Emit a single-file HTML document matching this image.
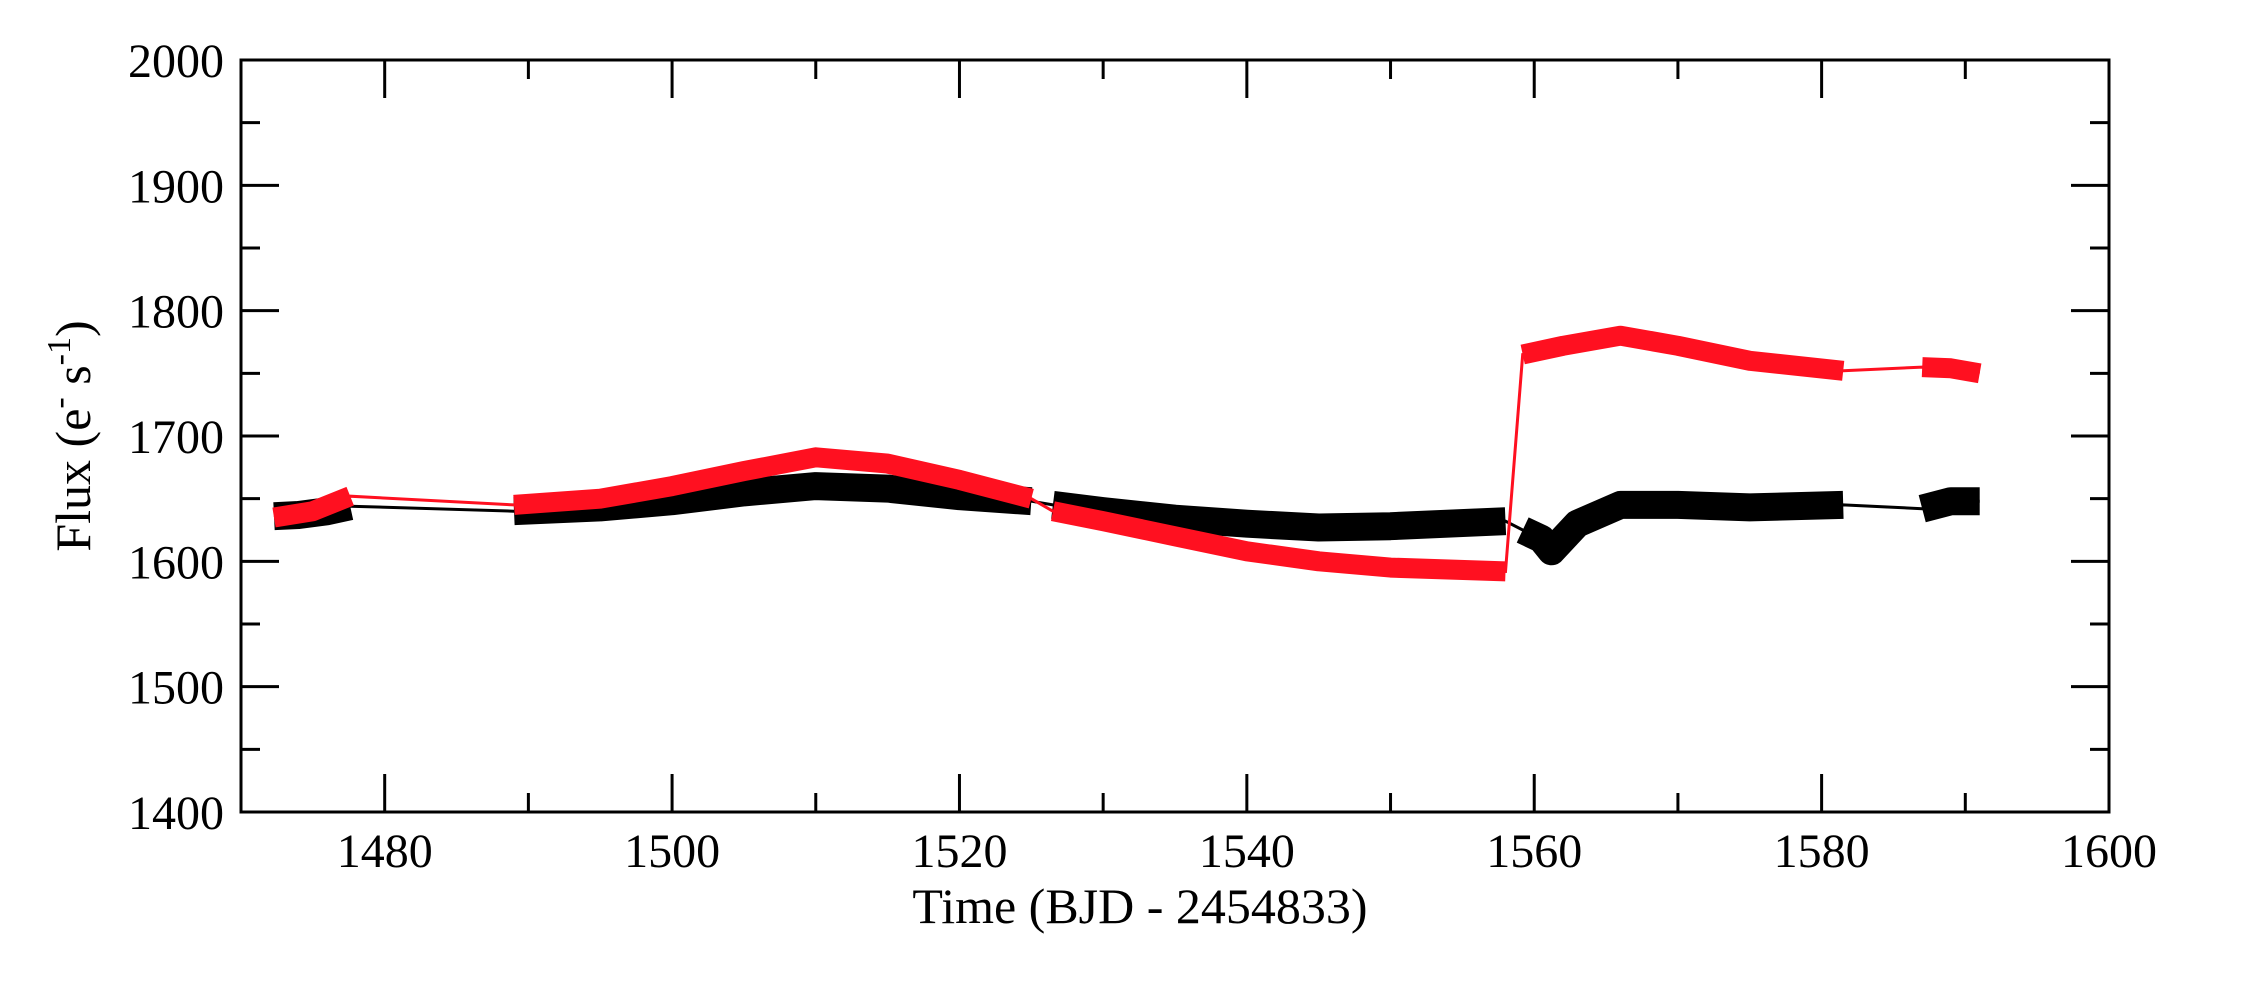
<!DOCTYPE html>
<html><head><meta charset="utf-8"><style>
html,body{margin:0;padding:0;background:#fff;}
svg{display:block;font-family:"Liberation Serif",serif;}
</style></head><body>
<svg id="chart" width="2258" height="1004" viewBox="0 0 2258 1004" xmlns="http://www.w3.org/2000/svg">
<rect x="0" y="0" width="2258" height="1004" fill="#fff"/>
<g id="series"></g>
<g id="axes"></g>
<text x="1140" y="923" font-size="50" text-anchor="middle">Time (BJD - 2454833)</text>
<text transform="translate(90,436) rotate(-90)" font-size="50" text-anchor="middle">Flux (e<tspan font-size="34" dy="-20">-</tspan><tspan dy="20"> s</tspan><tspan font-size="34" dy="-20">-1</tspan><tspan dy="20">)</tspan></text>
</svg>
<script>
const xTicks = [1480, 1500, 1520, 1540, 1560, 1580, 1600];
const yTicks = [1400, 1500, 1600, 1700, 1800, 1900, 2000];
const blackSegTimes = [
  [1472.3, 1474, 1476, 1477.6],
  [1489, 1495, 1500, 1505, 1510, 1515, 1520, 1525],
  [1526.5, 1530, 1535, 1540, 1545, 1550, 1558],
  [1559.2, 1560.5, 1561.2, 1563, 1566, 1570, 1575, 1581.5],
  [1587, 1589, 1591]
];
const blackSegFlux = [
  [1636, 1637, 1640, 1644],
  [1640, 1643, 1648, 1655, 1660, 1658, 1652, 1648],
  [1645, 1640, 1634, 1630, 1627, 1628, 1632],
  [1625, 1618, 1608, 1630, 1645, 1645, 1643, 1645],
  [1642, 1648, 1648]
];
const redSegTimes = [
  [1472.3, 1475, 1477.6],
  [1489, 1495, 1500, 1505, 1510, 1515, 1520, 1525],
  [1526.5, 1530, 1535, 1540, 1545, 1550, 1558],
  [1559.2, 1562, 1566, 1570, 1575, 1581.5],
  [1587, 1589, 1591]
];
const redSegFlux = [
  [1635, 1640, 1652],
  [1645, 1650, 1660, 1672, 1683, 1678, 1665, 1650],
  [1640, 1632, 1620, 1608, 1600, 1595, 1592],
  [1765, 1772, 1780, 1772, 1760, 1752],
  [1755, 1754, 1750]
];

const L = 241, R = 2109, T = 60, B = 812;
const X0 = 1470, X1 = 1600, Y0 = 1400, Y1 = 2000;
function xs(v){ return L + (v - X0) / (X1 - X0) * (R - L); }
function ys(v){ return B - (v - Y0) / (Y1 - Y0) * (B - T); }
const NS = "http://www.w3.org/2000/svg";
function mk(tag, attrs, parent){
  const e = document.createElementNS(NS, tag);
  for (const k in attrs) e.setAttribute(k, attrs[k]);
  parent.appendChild(e);
  return e;
}
const sg = document.getElementById('series');
function drawSeries(times, flux, color, band, name){
  let all = [];
  times.forEach((ts, i) => ts.forEach((t, j) => all.push(xs(t).toFixed(1) + ',' + ys(flux[i][j]).toFixed(1))));
  const c = mk('polyline', {points: all.join(' '), fill: 'none', stroke: color, 'stroke-width': 3}, sg);
  
  
  times.forEach((ts, i) => {
    const pts = ts.map((t, j) => xs(t).toFixed(1) + ',' + ys(flux[i][j]).toFixed(1)).join(' ');
    const p = mk('polyline', {points: pts, fill: 'none', stroke: color, 'stroke-width': band, 'stroke-linejoin': 'round', 'stroke-linecap': 'butt'}, sg);
    
    
  });
}
drawSeries(blackSegTimes, blackSegFlux, '#000', 28, 'black-series');
drawSeries(redSegTimes, redSegFlux, '#ff1020', 20, 'red-series');

const ag = document.getElementById('axes');
const frame = mk('rect', {x: L, y: T, width: R - L, height: B - T, fill: 'none', stroke: '#000', 'stroke-width': 3}, ag);


for (let v = X0; v <= X1; v += 10) {
  const major = xTicks.includes(v);
  const len = major ? 38 : 19;
  const x = xs(v);
  mk('line', {x1: x, y1: B, x2: x, y2: B - len, stroke: '#000', 'stroke-width': 3}, ag);
  mk('line', {x1: x, y1: T, x2: x, y2: T + len, stroke: '#000', 'stroke-width': 3}, ag);
}
xTicks.forEach(v => {
  const t = mk('text', {x: xs(v), y: 867, 'font-size': 48, 'text-anchor': 'middle'}, ag);
  t.textContent = v;
  
  
});
for (let v = Y0; v <= Y1; v += 50) {
  const major = yTicks.includes(v);
  const len = major ? 38 : 19;
  const y = ys(v);
  mk('line', {x1: L, y1: y, x2: L + len, y2: y, stroke: '#000', 'stroke-width': 3}, ag);
  mk('line', {x1: R, y1: y, x2: R - len, y2: y, stroke: '#000', 'stroke-width': 3}, ag);
}
yTicks.forEach(v => {
  const t = mk('text', {x: 224, y: ys(v) + 17, 'font-size': 48, 'text-anchor': 'end'}, ag);
  t.textContent = v;
  
  
});
</script>
</body></html>
